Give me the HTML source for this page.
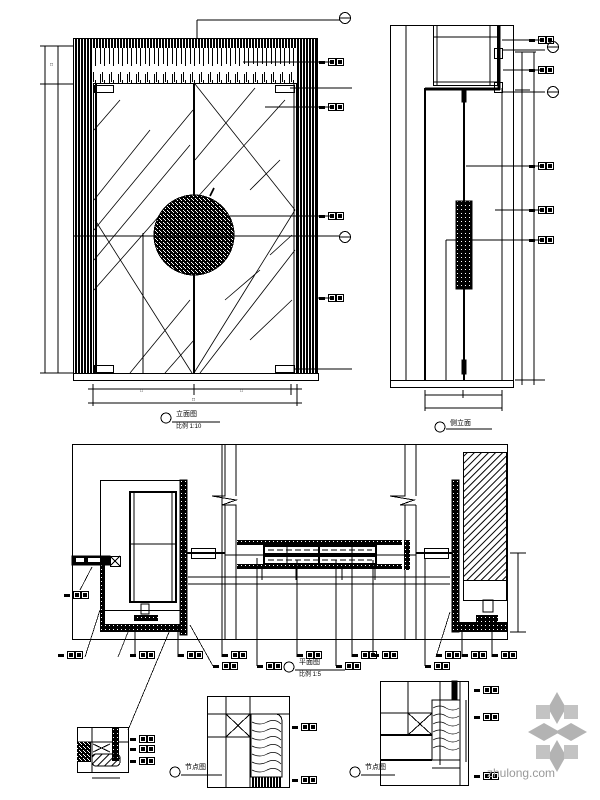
<!DOCTYPE html>
<html><head><meta charset="utf-8"><style>
html,body{margin:0;padding:0;background:#fff;width:600px;height:800px;overflow:hidden}
svg{display:block}
text{font-family:"Liberation Sans","Noto Sans CJK SC",sans-serif;fill:#000}
</style></head><body>
<svg width="600" height="800" viewBox="0 0 600 800" xmlns="http://www.w3.org/2000/svg" shape-rendering="crispEdges">
<defs>
<pattern id="vs" width="3" height="10" patternUnits="userSpaceOnUse"><rect width="2" height="10" fill="#000"/></pattern>
<pattern id="wood" width="9" height="36" patternUnits="userSpaceOnUse"><rect x="1" y="2" width="1" height="26" fill="#000"/><rect x="5" y="8" width="1" height="22" fill="#000"/><rect x="3" y="0" width="1" height="10" fill="#000"/></pattern>
<pattern id="noise" width="4" height="4" patternUnits="userSpaceOnUse"><rect width="4" height="4" fill="#000"/><rect x="1" y="0" width="1" height="1" fill="#fff"/><rect x="3" y="2" width="1" height="1" fill="#fff"/><rect x="0" y="3" width="1" height="1" fill="#fff"/></pattern>
<pattern id="dots" width="4" height="4" patternUnits="userSpaceOnUse"><rect width="4" height="4" fill="#000"/><rect x="1" y="1" width="1" height="1" fill="#fff"/></pattern>
<pattern id="hatch" width="5" height="5" patternUnits="userSpaceOnUse" patternTransform="rotate(45)"><rect width="1" height="5" fill="#000"/></pattern>
<symbol id="lb" viewBox="0 0 26 8" width="26" height="8"><rect x="0" y="3" width="6" height="3" fill="#000"/><rect x="9.5" y="0.5" width="7" height="7" fill="none" stroke="#000"/><rect x="17.5" y="0.5" width="7" height="7" fill="none" stroke="#000"/><rect x="11" y="2" width="4" height="4" fill="#000"/><rect x="19" y="2" width="4" height="4" fill="#000"/></symbol>
</defs>
<g fill="none" stroke="#000" stroke-width="1">

<!-- FRONT ELEVATION -->
<rect x="73" y="38" width="20" height="335" fill="url(#vs)" stroke="none"/>
<rect x="297" y="38" width="21" height="335" fill="url(#vs)" stroke="none"/>
<rect x="73" y="38" width="245" height="10" fill="url(#vs)" stroke="none"/>
<rect x="90" y="48" width="207" height="35" fill="url(#wood)" stroke="none"/>
<rect x="73.5" y="38.5" width="244" height="335"/>
<rect x="93.5" y="83.5" width="203" height="290"/>
<line x1="96" y1="84" x2="96" y2="373" stroke-width="2"/>
<line x1="194" y1="84" x2="194" y2="373" stroke-width="2"/>
<line x1="294" y1="84" x2="294" y2="373"/>
<rect x="73.5" y="373.5" width="245" height="7"/>
<rect x="94.5" y="85.5" width="19" height="7"/><rect x="275.5" y="85.5" width="19" height="7"/>
<rect x="94.5" y="365.5" width="19" height="7"/><rect x="275.5" y="365.5" width="19" height="7"/>
<g stroke-width="0.8" shape-rendering="auto">
<line x1="94" y1="130" x2="120" y2="100"/><line x1="94" y1="200" x2="150" y2="130"/><line x1="94" y1="230" x2="193" y2="110"/>
<line x1="94" y1="260" x2="190" y2="145"/><line x1="94" y1="290" x2="160" y2="215"/>
<line x1="195" y1="84" x2="295" y2="210"/><line x1="95" y1="220" x2="192" y2="373"/>
<line x1="194" y1="373" x2="295" y2="210"/><line x1="200" y1="373" x2="295" y2="250"/>
<line x1="130" y1="373" x2="190" y2="300"/><line x1="165" y1="373" x2="194" y2="340"/>
<line x1="195" y1="160" x2="255" y2="88"/><line x1="195" y1="200" x2="285" y2="100"/>
<line x1="250" y1="340" x2="292" y2="300"/><line x1="225" y1="300" x2="260" y2="270"/>
<line x1="270" y1="255" x2="292" y2="235"/><line x1="250" y1="190" x2="280" y2="160"/>
</g>
<circle cx="194" cy="235" r="40" fill="url(#noise)" stroke="#000"/>
<line x1="210" y1="196" x2="214" y2="188" stroke-width="2"/>
<line x1="73" y1="236" x2="340" y2="236"/>
<line x1="143" y1="233" x2="143" y2="373"/>
<line x1="197" y1="38" x2="197" y2="20"/><line x1="197" y1="20" x2="340" y2="20"/>
<circle cx="345" cy="18" r="5.5"/><line x1="340" y1="18" x2="351" y2="18"/>
<circle cx="345" cy="237" r="5.5"/><line x1="340" y1="237" x2="351" y2="237"/>
<line x1="45" y1="46" x2="45" y2="373"/><line x1="58" y1="46" x2="58" y2="373"/>
<line x1="40" y1="46" x2="73" y2="46"/><line x1="40" y1="84" x2="73" y2="84"/><line x1="40" y1="373" x2="73" y2="373"/>
<line x1="88" y1="389" x2="302" y2="389"/><line x1="88" y1="403" x2="302" y2="403"/>
<line x1="93" y1="384" x2="93" y2="406"/><line x1="194" y1="384" x2="194" y2="395"/><line x1="291" y1="384" x2="291" y2="395"/><line x1="297" y1="384" x2="297" y2="406"/>
<line x1="243" y1="62" x2="330" y2="62"/><line x1="290" y1="88" x2="352" y2="88"/><line x1="265" y1="107" x2="330" y2="107"/>
<line x1="230" y1="216" x2="330" y2="216"/><line x1="318" y1="298" x2="330" y2="298"/><line x1="294" y1="369" x2="352" y2="369"/>
<circle cx="166" cy="418" r="5"/><line x1="172" y1="422" x2="220" y2="422"/>

<!-- SIDE ELEVATION -->
<rect x="390.5" y="25.5" width="123" height="355"/>
<rect x="390.5" y="380.5" width="123" height="7"/>
<line x1="406" y1="25" x2="406" y2="380"/>
<line x1="425" y1="88" x2="425" y2="380" stroke-width="2"/>
<rect x="433.5" y="25.5" width="64" height="60"/>
<line x1="433" y1="37" x2="497" y2="37"/><line x1="433" y1="82" x2="497" y2="82"/>
<line x1="437" y1="25" x2="437" y2="86"/><line x1="490" y1="25" x2="490" y2="86"/>
<line x1="425" y1="89" x2="500" y2="89" stroke-width="3"/>
<line x1="499" y1="25" x2="499" y2="90" stroke-width="3"/>
<rect x="494.5" y="48.5" width="8" height="10"/><rect x="494.5" y="82.5" width="8" height="10"/>
<line x1="502" y1="88" x2="502" y2="380"/>
<line x1="464" y1="90" x2="464" y2="380" stroke-width="2"/>
<rect x="462" y="90" width="4" height="12" fill="#000"/>
<rect x="456" y="201" width="16" height="88" fill="url(#dots)" stroke="#000"/>
<rect x="462" y="360" width="4" height="14" fill="#000"/>
<line x1="446" y1="240" x2="446" y2="380"/><line x1="446" y1="240" x2="456" y2="240"/>
<line x1="522" y1="52" x2="522" y2="385"/><line x1="534" y1="52" x2="534" y2="385"/>
<line x1="515" y1="52" x2="536" y2="52"/><line x1="515" y1="90" x2="530" y2="90"/><line x1="515" y1="380" x2="545" y2="380"/>
<line x1="502" y1="40" x2="540" y2="40"/><line x1="503" y1="50" x2="545" y2="50"/><line x1="503" y1="70" x2="540" y2="70"/>
<line x1="503" y1="92" x2="545" y2="92"/>
<line x1="466" y1="166" x2="540" y2="166"/><line x1="495" y1="210" x2="540" y2="210"/><line x1="472" y1="240" x2="540" y2="240"/>
<circle cx="553" cy="47" r="5.5"/><line x1="548" y1="47" x2="559" y2="47"/>
<circle cx="553" cy="92" r="5.5"/><line x1="548" y1="92" x2="559" y2="92"/>
<line x1="425" y1="395" x2="502" y2="395"/><line x1="425" y1="408" x2="502" y2="408"/>
<line x1="425" y1="390" x2="425" y2="411"/><line x1="463" y1="390" x2="463" y2="398"/><line x1="502" y1="390" x2="502" y2="411"/>
<circle cx="440" cy="427" r="5"/><line x1="446" y1="429" x2="492" y2="429"/>

<!-- PLAN -->
<rect x="72.5" y="444.5" width="435" height="195"/>
<path d="M225 444 V496 L212 496 L236 500 L222 505 L236 505 V639"/>
<path d="M236 444 V496" /><line x1="225" y1="505" x2="225" y2="639"/>
<path d="M405 444 V496 L390 496 L414 500 L400 505 L416 505"/>
<line x1="416" y1="444" x2="416" y2="496"/><line x1="405" y1="505" x2="405" y2="639"/><line x1="416" y1="505" x2="416" y2="639"/>
<rect x="100.5" y="480.5" width="80" height="130"/>
<rect x="130" y="492" width="46" height="110" stroke-width="2"/>
<line x1="130" y1="544" x2="176" y2="544"/><line x1="134" y1="492" x2="134" y2="602"/><line x1="172" y1="492" x2="172" y2="602"/>
<rect x="180" y="480" width="7" height="155" fill="url(#dots)" stroke="#000"/>
<rect x="100" y="558" width="5" height="74" fill="url(#dots)" stroke="none"/>
<rect x="100" y="624" width="87" height="8" fill="url(#dots)" stroke="none"/>
<rect x="72" y="556" width="38" height="9" fill="#000"/><rect x="76" y="558" width="8" height="4" fill="#fff" stroke="none"/><rect x="88" y="558" width="12" height="4" fill="#fff" stroke="none"/>
<rect x="110.5" y="556.5" width="10" height="10"/><line x1="110" y1="556" x2="120" y2="566"/><line x1="120" y1="556" x2="110" y2="566"/>
<rect x="141" y="604" width="8" height="10"/><rect x="134" y="615" width="24" height="6" fill="url(#dots)" stroke="none"/>
<rect x="191.5" y="548.5" width="24" height="10"/><line x1="187" y1="553" x2="225" y2="553" stroke-width="2"/>
<rect x="424.5" y="548.5" width="24" height="10"/><line x1="416" y1="553" x2="452" y2="553" stroke-width="2"/>
<rect x="237" y="540" width="165" height="5" fill="url(#dots)" stroke="none"/>
<rect x="237" y="564" width="165" height="5" fill="url(#dots)" stroke="none"/>
<rect x="264" y="546" width="112" height="8" fill="#fff" stroke="#000" stroke-width="2"/>
<rect x="264" y="556" width="112" height="8" fill="#fff" stroke="#000" stroke-width="2"/>
<line x1="268" y1="550" x2="372" y2="550" stroke-dasharray="6 3"/>
<line x1="268" y1="560" x2="372" y2="560" stroke-dasharray="6 3"/>
<line x1="319" y1="540" x2="319" y2="569" stroke-width="2"/>
<line x1="287" y1="546" x2="287" y2="564"/><line x1="352" y1="546" x2="352" y2="564"/>
<line x1="225" y1="555" x2="416" y2="555"/>
<rect x="404" y="540" width="6" height="30" fill="url(#dots)" stroke="none"/>
<line x1="188" y1="577" x2="450" y2="577"/><line x1="188" y1="584" x2="450" y2="584"/>
<line x1="262" y1="569" x2="262" y2="580"/><line x1="296" y1="569" x2="296" y2="580"/><line x1="342" y1="569" x2="342" y2="580"/><line x1="375" y1="569" x2="375" y2="580"/>
<rect x="463.5" y="452.5" width="43" height="128" fill="url(#hatch)"/>
<rect x="452" y="480" width="7" height="152" fill="url(#dots)" stroke="#000"/>
<rect x="452" y="622" width="55" height="10" fill="url(#dots)" stroke="none"/>
<rect x="463.5" y="580.5" width="43" height="20"/><rect x="483" y="600" width="10" height="12"/><rect x="476" y="615" width="22" height="7" fill="url(#dots)" stroke="none"/>
<line x1="518" y1="553" x2="518" y2="632"/><line x1="510" y1="553" x2="526" y2="553"/><line x1="510" y1="632" x2="526" y2="632"/>
<g stroke-width="0.8">
<line x1="92" y1="567" x2="80" y2="590"/><line x1="100" y1="610" x2="85" y2="657"/><line x1="130" y1="627" x2="118" y2="657"/>
<line x1="135" y1="627" x2="135" y2="657"/><line x1="178" y1="625" x2="178" y2="657"/><line x1="190" y1="625" x2="213" y2="666"/>
<line x1="222" y1="444" x2="222" y2="657"/><line x1="257" y1="558" x2="257" y2="666"/><line x1="297" y1="560" x2="297" y2="657"/>
<line x1="336" y1="560" x2="336" y2="666"/><line x1="352" y1="560" x2="352" y2="657"/><line x1="373" y1="560" x2="373" y2="657"/>
<line x1="425" y1="558" x2="425" y2="666"/><line x1="450" y1="612" x2="436" y2="657"/><line x1="462" y1="630" x2="462" y2="657"/>
<line x1="492" y1="630" x2="492" y2="657"/><line x1="172" y1="625" x2="128" y2="730"/>
</g>
<circle cx="289" cy="667" r="5"/><line x1="295" y1="670" x2="345" y2="670"/>

<!-- DETAIL 1 -->
<rect x="77.5" y="727.5" width="51" height="45"/>
<line x1="92" y1="727" x2="92" y2="772"/><line x1="77" y1="742" x2="128" y2="742"/>
<rect x="112" y="727" width="7" height="34" fill="url(#dots)" stroke="none"/>
<rect x="77" y="742" width="14" height="20" fill="url(#noise)" stroke="none"/>
<rect x="92" y="754" width="28" height="12" rx="4" fill="url(#hatch)"/>
<line x1="93" y1="744" x2="110" y2="752"/><line x1="110" y1="744" x2="93" y2="752"/>
<line x1="92" y1="778" x2="120" y2="778"/>
<!-- DETAIL 2 -->
<rect x="207.5" y="696.5" width="82" height="91"/>
<line x1="226" y1="696" x2="226" y2="788"/><line x1="250" y1="696" x2="250" y2="788"/>
<line x1="207" y1="714" x2="289" y2="714"/><line x1="207" y1="737" x2="250" y2="737"/>
<line x1="226" y1="714" x2="250" y2="737"/><line x1="250" y1="714" x2="226" y2="737"/>
<path d="M251 714 H275 Q282 714 282 722 V777 H251 Z"/>
<g stroke-width="0.7" shape-rendering="auto"><path d="M252 722 q8 4 15 0 q8 -4 14 2"/><path d="M252 730 q8 4 15 0 q8 -4 14 2"/><path d="M252 738 q8 4 15 0 q8 -4 14 2"/><path d="M252 746 q8 4 15 0 q8 -4 14 2"/><path d="M252 754 q8 4 15 0 q8 -4 14 2"/><path d="M252 762 q8 4 15 0 q8 -4 14 2"/><path d="M252 770 q8 4 15 0 q8 -4 14 2"/></g>
<rect x="251" y="777" width="31" height="11" fill="url(#vs)" stroke="none"/>
<line x1="282" y1="730" x2="282" y2="777"/>
<circle cx="175" cy="772" r="5"/><line x1="181" y1="775" x2="222" y2="775"/>
<!-- DETAIL 3 -->
<rect x="380.5" y="681.5" width="88" height="104"/>
<line x1="408" y1="681" x2="408" y2="735"/><line x1="440" y1="681" x2="440" y2="765"/><line x1="460" y1="681" x2="460" y2="785"/>
<line x1="380" y1="713" x2="432" y2="713"/><line x1="380" y1="735" x2="432" y2="735" stroke-width="2"/>
<line x1="380" y1="760" x2="432" y2="760" stroke-width="2"/>
<line x1="408" y1="713" x2="432" y2="735"/><line x1="432" y1="713" x2="408" y2="735"/>
<path d="M432 700 H460 V760 H432 Z"/>
<g stroke-width="0.7" shape-rendering="auto"><path d="M433 708 q7 -4 13 0 q7 4 13 0"/><path d="M433 716 q7 -4 13 0 q7 4 13 0"/><path d="M433 724 q7 -4 13 0 q7 4 13 0"/><path d="M433 732 q7 -4 13 0 q7 4 13 0"/><path d="M433 740 q7 -4 13 0 q7 4 13 0"/><path d="M433 748 q7 -4 13 0 q7 4 13 0"/></g>
<rect x="452" y="681" width="5" height="19" fill="#000"/>
<line x1="466" y1="700" x2="466" y2="762"/><line x1="432" y1="768" x2="460" y2="768"/>
<circle cx="355" cy="772" r="5"/><line x1="361" y1="775" x2="395" y2="775"/>
</g>

<!-- labels -->
<use href="#lb" x="319" y="58"/><use href="#lb" x="319" y="103"/><use href="#lb" x="319" y="212"/><use href="#lb" x="319" y="294"/>
<use href="#lb" x="529" y="36"/><use href="#lb" x="529" y="66"/><use href="#lb" x="529" y="162"/><use href="#lb" x="529" y="206"/><use href="#lb" x="529" y="236"/>
<use href="#lb" x="64" y="591"/><use href="#lb" x="58" y="651"/><use href="#lb" x="130" y="651"/><use href="#lb" x="178" y="651"/><use href="#lb" x="222" y="651"/><use href="#lb" x="213" y="662"/>
<use href="#lb" x="257" y="662"/><use href="#lb" x="297" y="651"/><use href="#lb" x="336" y="662"/><use href="#lb" x="352" y="651"/><use href="#lb" x="373" y="651"/>
<use href="#lb" x="425" y="662"/><use href="#lb" x="436" y="651"/><use href="#lb" x="462" y="651"/><use href="#lb" x="492" y="651"/>
<use href="#lb" x="130" y="735"/><use href="#lb" x="130" y="745"/><use href="#lb" x="130" y="757"/>
<use href="#lb" x="292" y="723"/><use href="#lb" x="292" y="776"/>
<use href="#lb" x="474" y="686"/><use href="#lb" x="474" y="713"/><use href="#lb" x="474" y="772"/>

<g font-size="5">
<text x="50" y="66">□</text><text x="140" y="392">□</text><text x="240" y="392">□</text><text x="192" y="401">□</text>
<text x="176" y="416" font-size="7">立面图</text><text x="176" y="428" font-size="6">比例 1:10</text>
<text x="450" y="425" font-size="7">侧立面</text>
<text x="299" y="664" font-size="7">平面图</text><text x="299" y="676" font-size="6">比例 1:5</text>
<text x="185" y="769" font-size="7">节点图</text><text x="365" y="769" font-size="7">节点图</text>
</g>

<!-- watermark -->
<g fill="#9a9a9a" opacity="0.75" shape-rendering="auto">
<polygon points="557,692 566,708 557,724 548,708"/>
<polygon points="557,740 566,756 557,772 548,756"/>
<polygon points="528,732 544,723 560,732 544,741"/>
<polygon points="555,732 571,723 587,732 571,741"/>
<rect x="536" y="705" width="14" height="14" fill="#b0b0b0"/><rect x="564" y="705" width="14" height="14" fill="#b0b0b0"/>
<rect x="536" y="745" width="14" height="14" fill="#b0b0b0"/><rect x="564" y="745" width="14" height="14" fill="#b0b0b0"/>
</g>
<text x="487" y="777" font-size="12" fill="#999" style="fill:#999">zhulong.com</text>
</svg>
</body></html>
